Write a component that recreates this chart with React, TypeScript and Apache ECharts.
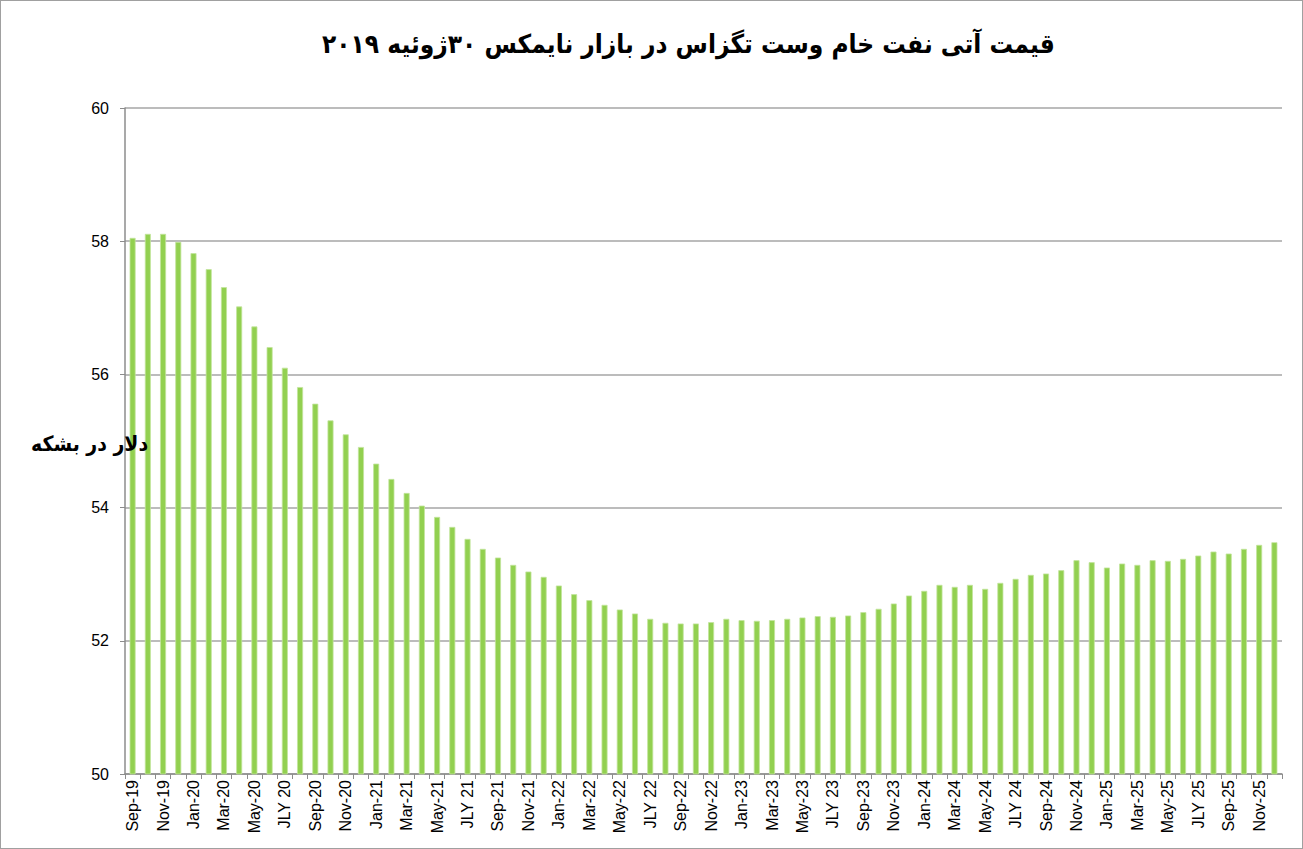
import React, { useEffect, useRef } from "react";
import * as echarts from "echarts";

const TITLE = "قیمت آتی نفت خام وست تگزاس در بازار نایمکس ۳۰ژوئیه ۲۰۱۹";
const Y_NAME = "دلار در بشکه";

const categories: string[] = [
  "Sep-19", "Oct-19", "Nov-19", "Dec-19",
  "Jan-20", "Feb-20", "Mar-20", "Apr-20", "May-20", "Jun-20", "JLY 20", "Aug-20", "Sep-20", "Oct-20", "Nov-20", "Dec-20",
  "Jan-21", "Feb-21", "Mar-21", "Apr-21", "May-21", "Jun-21", "JLY 21", "Aug-21", "Sep-21", "Oct-21", "Nov-21", "Dec-21",
  "Jan-22", "Feb-22", "Mar-22", "Apr-22", "May-22", "Jun-22", "JLY 22", "Aug-22", "Sep-22", "Oct-22", "Nov-22", "Dec-22",
  "Jan-23", "Feb-23", "Mar-23", "Apr-23", "May-23", "Jun-23", "JLY 23", "Aug-23", "Sep-23", "Oct-23", "Nov-23", "Dec-23",
  "Jan-24", "Feb-24", "Mar-24", "Apr-24", "May-24", "Jun-24", "JLY 24", "Aug-24", "Sep-24", "Oct-24", "Nov-24", "Dec-24",
  "Jan-25", "Feb-25", "Mar-25", "Apr-25", "May-25", "Jun-25", "JLY 25", "Aug-25", "Sep-25", "Oct-25", "Nov-25", "Dec-25",
];

const prices: number[] = [
  58.05, 58.11, 58.11, 57.99,
  57.82, 57.58, 57.31, 57.02, 56.72, 56.41, 56.10, 55.81, 55.56, 55.31, 55.10, 54.91,
  54.66, 54.43, 54.22, 54.03, 53.86, 53.71, 53.53, 53.38, 53.25, 53.14, 53.04, 52.96,
  52.83, 52.70, 52.61, 52.54, 52.47, 52.41, 52.33, 52.27, 52.26, 52.26, 52.28, 52.33,
  52.31, 52.30, 52.31, 52.33, 52.35, 52.37, 52.36, 52.38, 52.43, 52.48, 52.56, 52.68,
  52.75, 52.84, 52.81, 52.84, 52.78, 52.87, 52.93, 52.99, 53.01, 53.06, 53.21, 53.18,
  53.10, 53.16, 53.14, 53.21, 53.20, 53.23, 53.28, 53.34, 53.31, 53.38, 53.44, 53.48,
];

const Y_MIN = 50;
const Y_MAX = 60;
const Y_STEP = 2;

export default function App() {
  const ref = useRef<HTMLDivElement>(null);
  useEffect(() => {
    if (!ref.current) return;
    const chart = echarts.init(ref.current, undefined, { renderer: "svg" });
    chart.setOption({
      animation: false,
      backgroundColor: "#ffffff",
      title: {
        text: TITLE,
        left: 316,
        top: 25,
        textStyle: {
          fontFamily: "DejaVu Sans Condensed",
          fontWeight: "bold",
          fontSize: 26,
          color: "#000",
        },
      },
      graphic: [
        {
          type: "text",
          left: 30,
          top: 432,
          z: 10,
          style: {
            text: Y_NAME,
            font: "bold 21px 'DejaVu Sans Condensed'",
            fill: "#000",
          },
        },
      ],
      grid: { left: 124, right: 20, top: 107, bottom: 74, containLabel: false },
      xAxis: {
        type: "category",
        data: categories,
        boundaryGap: true,
        axisLine: { lineStyle: { color: "#8c8c8c", width: 1.5 } },
        axisTick: { show: true, interval: 0, length: 5, lineStyle: { color: "#8c8c8c" } },
        axisLabel: {
          interval: 1,
          rotate: 90,
          fontFamily: "Liberation Sans",
          fontSize: 16,
          color: "#000",
          margin: 6,
        },
      },
      yAxis: {
        type: "value",
        min: Y_MIN,
        max: Y_MAX,
        interval: Y_STEP,
        axisLine: { show: true, lineStyle: { color: "#8c8c8c", width: 1.5 } },
        axisTick: { show: true, length: 5, lineStyle: { color: "#8c8c8c" } },
        axisLabel: {
          fontFamily: "Liberation Sans",
          fontSize: 16,
          color: "#000",
          margin: 16,
        },
        splitLine: { show: true, lineStyle: { color: "#a6a6a6", width: 1.5 } },
      },
      series: [
        {
          type: "bar",
          data: prices,
          barWidth: 6,
          itemStyle: { color: "#92D050", borderColor: "#c3e49c", borderWidth: 0.8 },
        },
      ],
    });
    return () => chart.dispose();
  }, []);
  return (
    <div
      ref={ref}
      style={{
        position: "fixed",
        left: 0,
        top: 0,
        width: 1303,
        height: 849,
        boxSizing: "border-box",
        border: "1px solid #a0a0a0",
      }}
    />
  );
}
